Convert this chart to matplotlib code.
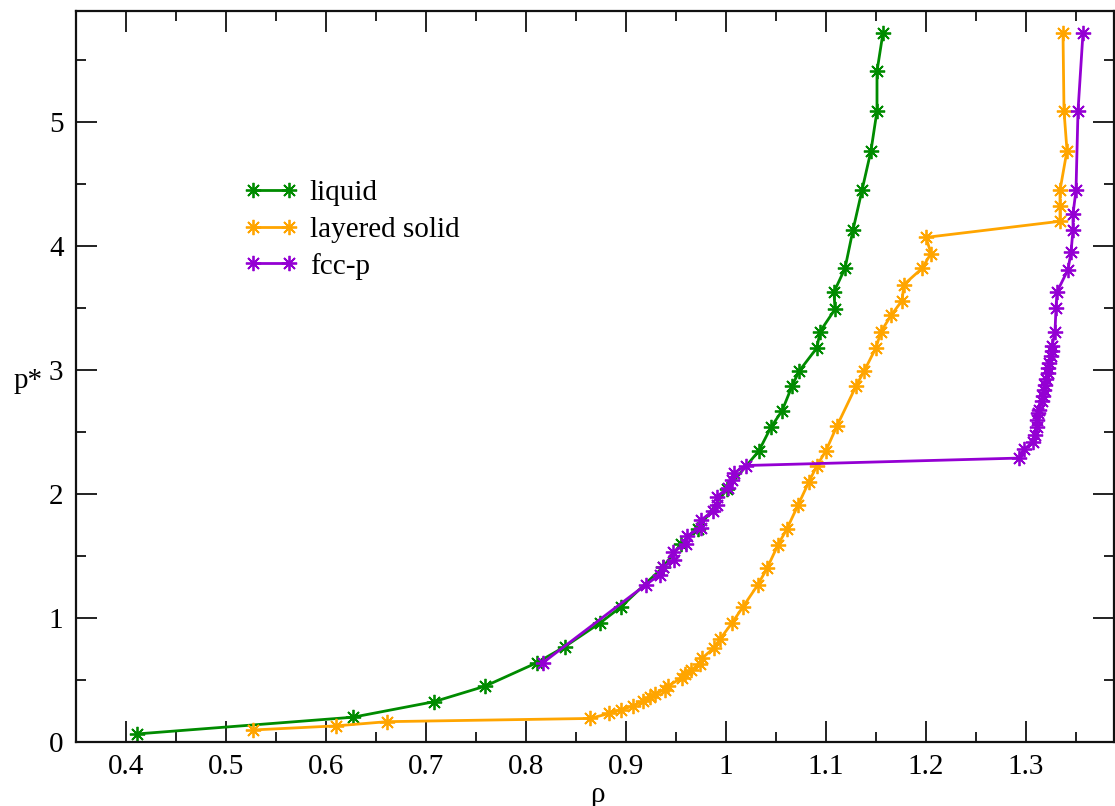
import matplotlib
matplotlib.use("Agg")
import matplotlib.pyplot as plt
from matplotlib.ticker import MultipleLocator

plt.rcParams['font.family'] = ['Liberation Serif', 'DejaVu Serif']

# liquid
liq_rho = [0.411, 0.627, 0.708, 0.759, 0.811, 0.839, 0.874, 0.895, 0.937, 0.955,
           0.972, 1.001, 1.033, 1.045, 1.056, 1.066, 1.073, 1.091, 1.094, 1.109,
           1.108, 1.119, 1.127, 1.136, 1.145, 1.151, 1.151, 1.157]
liq_p = [0.065, 0.20, 0.325, 0.45, 0.64, 0.77, 0.96, 1.09, 1.41, 1.60,
         1.72, 2.04, 2.35, 2.54, 2.67, 2.87, 2.99, 3.18, 3.31, 3.49,
         3.63, 3.82, 4.13, 4.45, 4.77, 5.09, 5.41, 5.72]

# layered solid
lay_rho = [0.527, 0.610, 0.661, 0.864, 0.883, 0.895, 0.907, 0.917, 0.924, 0.929,
           0.939, 0.942, 0.956, 0.959, 0.965, 0.974, 0.976, 0.988, 0.994, 1.006,
           1.017, 1.032, 1.041, 1.052, 1.061, 1.072, 1.083, 1.091, 1.100, 1.111,
           1.130, 1.138, 1.150, 1.155, 1.165, 1.176, 1.178, 1.196, 1.205, 1.200,
           1.334, 1.334, 1.334, 1.341, 1.338, 1.337]
lay_p = [0.097, 0.13, 0.164, 0.19, 0.23, 0.26, 0.29, 0.33, 0.365, 0.39,
         0.42, 0.45, 0.52, 0.545, 0.58, 0.63, 0.675, 0.76, 0.83, 0.96,
         1.09, 1.27, 1.40, 1.59, 1.72, 1.91, 2.10, 2.23, 2.35, 2.55,
         2.87, 2.99, 3.18, 3.31, 3.44, 3.56, 3.69, 3.82, 3.94, 4.07,
         4.20, 4.32, 4.45, 4.77, 5.09, 5.72]

# fcc-p
fcc_rho = [0.817, 0.920, 0.934, 0.937, 0.948, 0.947, 0.960, 0.961, 0.975, 0.975,
           0.987, 0.991, 0.991, 1.002, 1.006, 1.008, 1.020,
           1.293, 1.298, 1.307, 1.309, 1.311, 1.311, 1.312, 1.313, 1.316, 1.317,
           1.318, 1.319, 1.320, 1.322, 1.322, 1.323, 1.325, 1.326, 1.326, 1.329,
           1.330, 1.331, 1.342, 1.345, 1.347, 1.347, 1.350, 1.352, 1.357]
fcc_p = [0.64, 1.27, 1.35, 1.41, 1.47, 1.53, 1.60, 1.66, 1.73, 1.79,
         1.86, 1.91, 1.98, 2.05, 2.11, 2.17, 2.23,
         2.29, 2.36, 2.42, 2.48, 2.54, 2.60, 2.65, 2.68, 2.75, 2.79,
         2.84, 2.88, 2.93, 2.98, 3.02, 3.06, 3.11, 3.15, 3.19, 3.31,
         3.50, 3.63, 3.81, 3.95, 4.13, 4.26, 4.45, 5.09, 5.72]

W, H = 1115, 806
fig = plt.figure(figsize=(W / 100, H / 100), dpi=100)
L, R, T, B = 76, 1114, 10.5, 742
ax = fig.add_axes([L / W, (H - B) / H, (R - L) / W, (B - T) / H])

FS = 21
star = (8, 2, 0)
kw = dict(marker=star, markersize=11, markeredgewidth=1.3, linewidth=2)
ax.plot(liq_rho, liq_p, color='#008b00', label='liquid', **kw)
ax.plot(lay_rho, lay_p, color='#ffa500', label='layered solid', **kw)
ax.plot(fcc_rho, fcc_p, color='#9400d3', label='fcc-p', **kw)

ax.set_xlim(0.35, 1.388)
ax.set_ylim(0, 5.9)
ax.xaxis.set_minor_locator(MultipleLocator(0.05))
ax.yaxis.set_minor_locator(MultipleLocator(0.5))
ax.set_xticks([0.4, 0.5, 0.6, 0.7, 0.8, 0.9, 1.0, 1.1, 1.2, 1.3])
ax.set_xticklabels(['0.4', '0.5', '0.6', '0.7', '0.8', '0.9', '1', '1.1', '1.2', '1.3'])
ax.set_yticks([0, 1, 2, 3, 4, 5])
ax.set_yticklabels(['0', '1', '2', '3', '4', '5'])

ax.tick_params(which='both', direction='in', top=True, right=True, labelsize=FS, width=1.4, color='#222222')
ax.tick_params(which='major', length=15, pad=9)
ax.tick_params(which='minor', length=7.5)
for s in ax.spines.values():
    s.set_linewidth(1.6)
    s.set_color('#111111')

fig.text(597 / W, 1 - 795 / H, 'ρ', fontsize=FS, ha='center', va='center')
fig.text(28 / W, 1 - 381 / H, 'p*', fontsize=FS, ha='center', va='center')

leg = ax.legend(loc='upper left', bbox_to_anchor=(244 / W, 1 - 180 / H),
                bbox_transform=fig.transFigure, frameon=False, fontsize=FS,
                numpoints=2, handlelength=1.85, handletextpad=0.4,
                labelspacing=0.34, borderpad=0, borderaxespad=0)

fig.savefig('out.png', dpi=100)
